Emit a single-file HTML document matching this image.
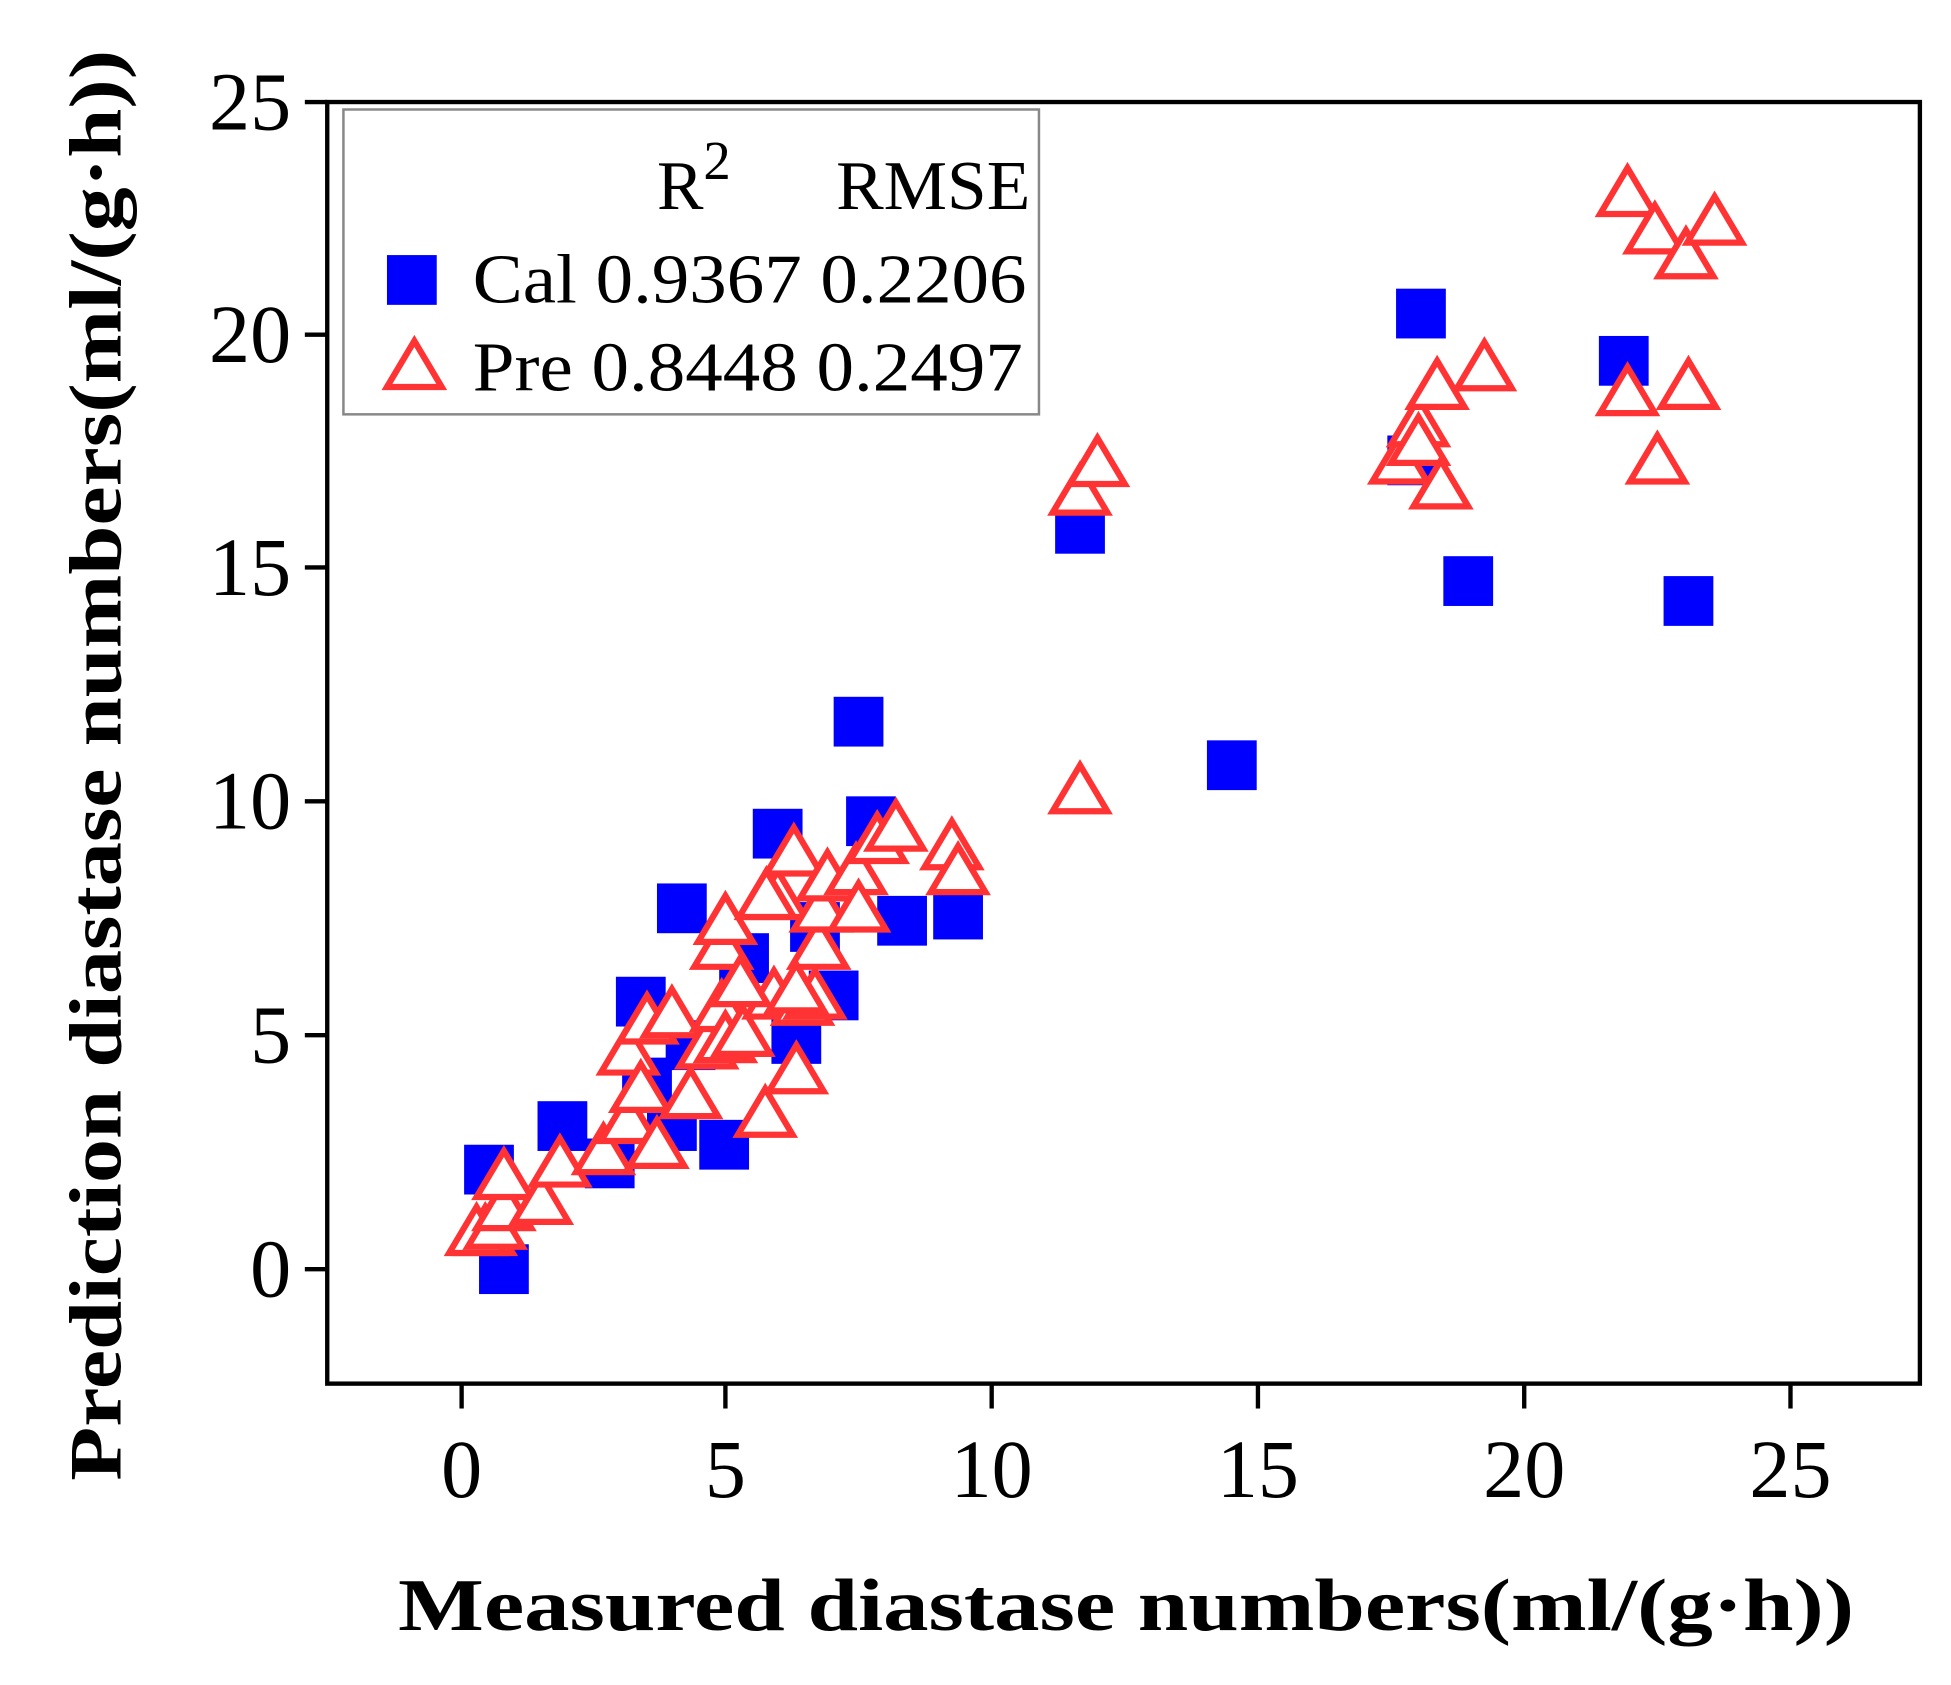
<!DOCTYPE html>
<html><head><meta charset="utf-8"><style>html,body{margin:0;padding:0;background:#fff}svg{display:block}</style></head>
<body>
<svg width="1951" height="1685" viewBox="0 0 1568 1354.2" preserveAspectRatio="none" xmlns="http://www.w3.org/2000/svg" font-family="'Liberation Serif', serif">
<rect width="1568" height="1355" fill="#fff"/>
<defs>
<rect id="s" x="-20" y="-20" width="40" height="40" fill="#0000ff"/>
<path id="t" d="M0,-20 L22,17 L-22,17 Z" fill="#fff" stroke="#ff3333" stroke-width="5" stroke-linejoin="miter"/>
</defs>
<rect x="263" y="82" width="1280" height="1030" fill="none" stroke="#000" stroke-width="3.5"/>
<g stroke="#000" stroke-width="3.5">
<line x1="371" y1="1112" x2="371" y2="1132"/><line x1="583" y1="1112" x2="583" y2="1132"/><line x1="797" y1="1112" x2="797" y2="1132"/><line x1="1011" y1="1112" x2="1011" y2="1132"/><line x1="1225" y1="1112" x2="1225" y2="1132"/><line x1="1439" y1="1112" x2="1439" y2="1132"/>
<line x1="245" y1="82" x2="263" y2="82"/><line x1="245" y1="269" x2="263" y2="269"/><line x1="245" y1="456" x2="263" y2="456"/><line x1="245" y1="644" x2="263" y2="644"/><line x1="245" y1="832" x2="263" y2="832"/><line x1="245" y1="1020" x2="263" y2="1020"/>
</g>
<g font-size="66" fill="#000" text-anchor="middle">
<text x="371" y="1203">0</text><text x="583" y="1203">5</text><text x="797" y="1203">10</text><text x="1011" y="1203">15</text><text x="1225" y="1203">20</text><text x="1439" y="1203">25</text>
</g>
<g font-size="66" fill="#000" text-anchor="end">
<text x="234" y="104">25</text><text x="234" y="291">20</text><text x="234" y="478">15</text><text x="234" y="666">10</text><text x="234" y="854">5</text><text x="234" y="1042">0</text>
</g>
<text x="905" y="1310" font-size="60" font-weight="bold" text-anchor="middle" textLength="1170" lengthAdjust="spacingAndGlyphs">Measured diastase numbers(ml/(g·h))</text>
<text transform="translate(97,615) rotate(-90)" font-size="60" font-weight="bold" text-anchor="middle" textLength="1150" lengthAdjust="spacingAndGlyphs">Prediction diastase numbers(ml/(g·h))</text>
<rect x="276" y="88" width="559" height="245" fill="#fff" stroke="#888" stroke-width="2"/>
<g font-size="56" fill="#000">
<text x="528" y="168">R<tspan font-size="44" dy="-24">2</tspan></text>
<text x="672" y="168" textLength="156" lengthAdjust="spacingAndGlyphs">RMSE</text>
<text x="380" y="243" textLength="445" lengthAdjust="spacingAndGlyphs">Cal 0.9367  0.2206</text>
<text x="380" y="314" textLength="442" lengthAdjust="spacingAndGlyphs">Pre 0.8448  0.2497</text>
</g>
<use href="#s" x="331" y="225"/>
<use href="#t" x="333" y="294"/>
<g>
<use href="#s" x="393" y="940"/><use href="#s" x="405" y="1020"/><use href="#s" x="452" y="905"/><use href="#s" x="490" y="935"/><use href="#s" x="515" y="805"/><use href="#s" x="540" y="905"/><use href="#s" x="548" y="730"/><use href="#s" x="582" y="920"/><use href="#s" x="598" y="770"/><use href="#s" x="625" y="670"/><use href="#s" x="640" y="835"/><use href="#s" x="655" y="745"/><use href="#s" x="670" y="800"/><use href="#s" x="690" y="580"/><use href="#s" x="700" y="660"/><use href="#s" x="725" y="740"/><use href="#s" x="770" y="735"/><use href="#s" x="868" y="425"/><use href="#s" x="990" y="615"/><use href="#s" x="1142" y="252"/><use href="#s" x="1135" y="370"/><use href="#s" x="1180" y="467"/><use href="#s" x="1305" y="290"/><use href="#s" x="1357" y="483"/><use href="#s" x="555" y="840"/><use href="#s" x="520" y="870"/>
</g>
<g>
<use href="#t" x="390" y="990"/><use href="#t" x="383" y="990"/><use href="#t" x="398" y="985"/><use href="#t" x="405" y="970"/><use href="#t" x="405" y="945"/><use href="#t" x="435" y="965"/><use href="#t" x="450" y="935"/><use href="#t" x="485" y="925"/><use href="#t" x="505" y="845"/><use href="#t" x="505" y="900"/><use href="#t" x="515" y="875"/><use href="#t" x="520" y="820"/><use href="#t" x="528" y="920"/><use href="#t" x="540" y="815"/><use href="#t" x="555" y="880"/><use href="#t" x="568" y="840"/><use href="#t" x="580" y="760"/><use href="#t" x="583" y="740"/><use href="#t" x="580" y="810"/><use href="#t" x="583" y="835"/><use href="#t" x="597" y="830"/><use href="#t" x="615" y="895"/><use href="#t" x="622" y="800"/><use href="#t" x="625" y="720"/><use href="#t" x="638" y="685"/><use href="#t" x="640" y="860"/><use href="#t" x="645" y="805"/><use href="#t" x="655" y="800"/><use href="#t" x="658" y="760"/><use href="#t" x="660" y="730"/><use href="#t" x="665" y="705"/><use href="#t" x="688" y="700"/><use href="#t" x="690" y="730"/><use href="#t" x="705" y="675"/><use href="#t" x="720" y="665"/><use href="#t" x="765" y="680"/><use href="#t" x="770" y="700"/><use href="#t" x="595" y="790"/><use href="#t" x="616" y="720"/><use href="#t" x="640" y="795"/><use href="#t" x="868" y="635"/><use href="#t" x="868" y="395"/><use href="#t" x="882" y="372"/><use href="#t" x="1125" y="370"/><use href="#t" x="1140" y="340"/><use href="#t" x="1140" y="355"/><use href="#t" x="1155" y="310"/><use href="#t" x="1158" y="390"/><use href="#t" x="1193" y="295"/><use href="#t" x="1308" y="155"/><use href="#t" x="1330" y="185"/><use href="#t" x="1355" y="205"/><use href="#t" x="1378" y="178"/><use href="#t" x="1308" y="315"/><use href="#t" x="1332" y="370"/><use href="#t" x="1357" y="310"/>
</g>
</svg>
</body></html>
